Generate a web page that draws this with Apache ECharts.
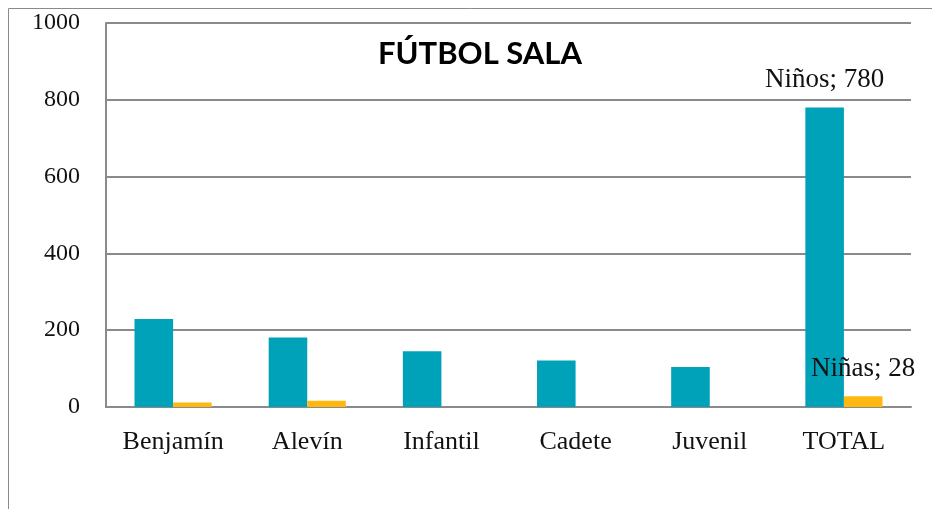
<!DOCTYPE html>
<html><head><meta charset="utf-8">
<script src="https://cdn.jsdelivr.net/npm/echarts@6/dist/echarts.min.js"></script>
<style>html,body{margin:0;padding:0;background:#fff}#c{width:932px;height:509px}</style>
</head><body><div id="c"></div>
<script>
const categories = ['Benjamín', 'Alevín', 'Infantil', 'Cadete', 'Juvenil', 'TOTAL'];
const ninos = [229, 181, 145, 121, 104, 780];
const ninas = [12, 16, 0, 0, 0, 28];
const yTicks = [0, 200, 400, 600, 800, 1000];
const titleText = 'FÚTBOL SALA';
const seriesNames = ['Niños', 'Niñas'];

const serif = '"Liberation Serif", "DejaVu Serif", serif';
const chart = echarts.init(document.getElementById('c'), null, {renderer: 'canvas'});
const lastIdx = categories.length - 1;
function labelFor(name) {
  return {
    show: true, position: 'top', distance: 14,
    fontFamily: serif, fontSize: 27, color: '#111',
    formatter: p => p.dataIndex === lastIdx ? name + '; ' + p.value : ''
  };
}
chart.setOption({
  animation: false,
  backgroundColor: '#fff',
  title: {
    text: titleText, left: 475, top: 33, textAlign: 'center',
    textStyle: {fontFamily: 'Lato, "Open Sans", sans-serif', fontWeight: 'bold', fontSize: 31, color: '#000'}
  },
  graphic: [{
    type: 'rect', left: 6, top: 6, shape: {width: 1000, height: 600},
    style: {fill: 'none', stroke: '#8a8a8a', lineWidth: 1}, silent: true, z: -1
  }],
  grid: {left: 106, right: 21, top: 23, bottom: 102, containLabel: false},
  xAxis: {
    type: 'category', data: categories,
    axisLine: {show: true, lineStyle: {color: '#8a8a8a', width: 2}},
    axisTick: {show: false},
    axisLabel: {fontFamily: serif, fontSize: 26, color: '#111', margin: 22}
  },
  yAxis: {
    type: 'value', min: yTicks[0], max: yTicks[yTicks.length - 1], interval: yTicks[1] - yTicks[0],
    axisLine: {show: true, lineStyle: {color: '#8a8a8a', width: 2}},
    axisTick: {show: false},
    splitLine: {show: true, lineStyle: {color: '#8a8a8a', width: 2}},
    axisLabel: {fontFamily: serif, fontSize: 24, color: '#111', margin: 26, formatter: v => String(v)}
  },
  series: [
    {name: seriesNames[0], type: 'bar', data: ninos, barGap: '0%', barCategoryGap: '42.5%',
     itemStyle: {color: '#00A2B9'}, label: labelFor(seriesNames[0])},
    {name: seriesNames[1], type: 'bar', data: ninas, barGap: '0%', barCategoryGap: '42.5%',
     itemStyle: {color: '#FFB80F'}, label: labelFor(seriesNames[1])}
  ]
});
</script></body></html>
